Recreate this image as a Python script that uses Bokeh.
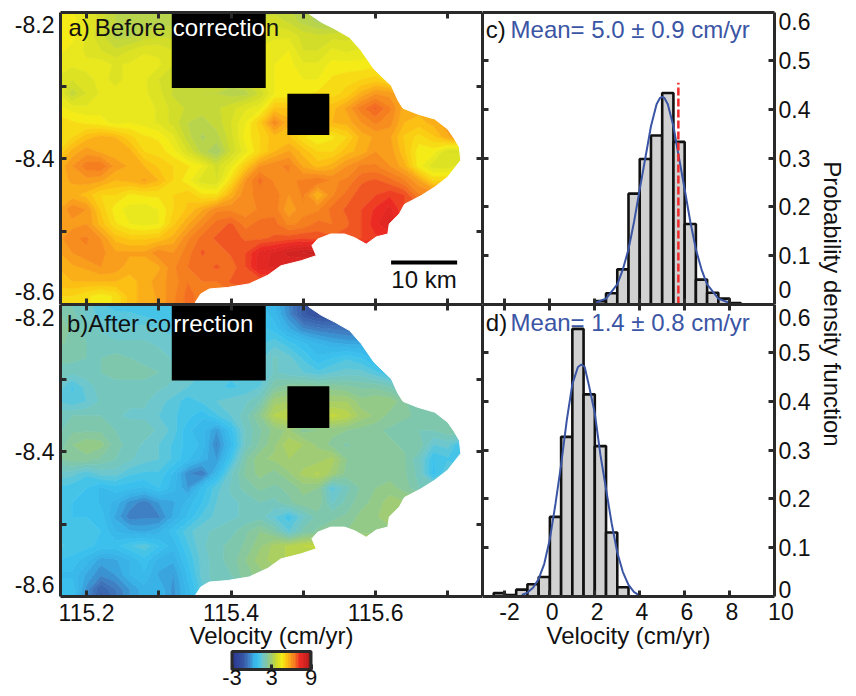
from bokeh.plotting import figure
from bokeh.layouts import row, column
from bokeh.models import Range1d, LinearAxis, FixedTicker, Label, ColorBar, LinearColorMapper
from bokeh.embed import file_html
from bokeh.resources import INLINE
import numpy as np

FONT = "Liberation Sans"
INK = "#111111"
SPINE = "#2a2a2a"
BLUE = "#3b55a5"

lon_grid = [115.16 + 0.02 * i for i in range(31)]
lat_grid = [-8.19 - 0.02 * i for i in range(22)]

velocity_before = [
 [4.7,4.5,4.2,3.8,3.5,3.3,3.2,3.3,3.3,3.3,3.3,3.3,3.3,3.4,3.5,3.6,3.5,3.3,3.1,3.1,3.2],
 [4.8,4.6,4.3,3.9,3.5,3.3,3.3,3.4,3.4,3.4,3.4,3.4,3.4,3.6,3.8,3.9,3.7,3.4,3.2,3.0,3.3,3.6,3.8],
 [4.8,4.6,4.2,3.8,3.4,3.4,3.6,3.7,3.7,3.6,3.6,3.6,3.7,3.9,4.1,4.2,4.2,3.9,3.8,3.9,3.9,4.0,4.2],
 [4.6,4.4,4.2,4.0,3.8,4.0,4.2,4.2,4.0,3.9,3.9,3.9,4.0,4.2,4.3,4.4,4.5,4.0,4.0,4.3,4.2,4.3,4.4,4.5],
 [4.4,4.3,4.3,4.4,4.2,4.3,4.4,4.3,4.0,3.8,3.8,3.8,3.9,4.1,4.3,4.5,4.6,4.3,4.3,4.6,4.6,4.6,4.7,4.7,4.7],
 [4.2,4.0,4.2,4.3,4.2,4.3,4.3,4.0,3.8,3.8,3.7,3.6,3.6,3.8,4.2,4.5,4.6,4.5,4.5,4.8,4.9,5.0,5.1,4.9,4.6],
 [4.3,3.6,4.0,4.3,4.3,4.4,4.3,4.1,3.7,3.6,3.5,3.5,3.4,3.4,3.8,4.5,4.6,4.7,4.8,4.9,5.1,5.6,6.0,5.9,5.5,5.1],
 [4.6,4.4,4.3,4.4,4.4,4.5,4.4,4.2,3.9,3.7,3.6,3.7,3.9,4.2,4.4,5.3,5.3,5.4,5.4,5.4,5.8,6.4,6.8,6.3,5.6,5.6,5.8,5.5],
 [4.9,4.8,4.7,4.6,4.4,4.5,4.4,4.2,3.9,3.5,3.4,3.6,4.0,4.5,5.2,6.2,5.6,5.4,5.4,5.5,5.6,6.0,6.3,6.1,5.5,5.4,5.6,5.9,5.8],
 [4.8,5.0,5.4,5.6,5.5,5.1,4.8,4.7,4.3,3.6,3.2,3.4,3.9,4.6,5.0,5.4,5.3,4.8,4.5,4.7,5.0,5.6,5.8,5.8,5.2,4.9,5.2,5.7,6.0,5.6],
 [5.0,5.6,5.9,5.7,5.6,5.6,5.0,4.9,4.6,4.0,3.4,3.0,3.8,4.4,5.0,5.5,5.8,5.4,5.0,5.0,5.4,5.6,6.0,5.9,5.3,4.6,4.6,4.0,4.0,4.6],
 [5.5,6.0,6.4,6.5,5.9,5.7,5.5,5.2,5.0,4.8,4.5,3.9,4.4,5.2,6.0,6.2,6.3,5.7,5.4,5.6,6.0,6.3,6.3,6.0,5.6,4.6,4.1,4.1,4.4,5.0],
 [5.6,5.8,5.9,5.8,5.5,5.6,5.8,5.5,5.0,4.6,4.1,4.0,4.9,6.0,6.6,6.2,6.2,6.3,6.5,6.2,6.3,6.7,6.8,6.6,6.3,5.8,5.0,5.0],
 [5.6,5.6,5.4,5.0,5.0,4.7,4.8,4.8,5.0,5.2,4.8,4.8,5.6,6.2,6.3,6.4,6.0,6.3,5.5,6.2,6.6,6.9,7.0,7.2,7.0,6.3],
 [5.7,6.2,6.0,5.2,4.6,4.4,4.3,4.5,5.0,5.3,5.7,6.2,6.2,6.1,6.3,6.4,5.8,6.2,6.2,6.6,6.8,7.0,7.3,7.6,7.0],
 [5.8,5.9,6.0,5.4,4.8,4.5,4.4,4.5,5.2,5.7,6.2,6.6,6.8,6.4,6.6,6.6,6.2,6.3,6.6,6.5,6.7,7.0,7.4,7.9,6.8],
 [5.9,6.2,6.3,6.0,5.4,5.2,5.2,5.3,5.6,6.2,6.6,6.8,6.9,6.7,6.7,6.8,6.9,7.0,6.9,6.8,6.9,7.0,7.2],
 [5.7,6.0,6.2,6.1,5.8,5.8,5.8,6.2,6.0,6.4,6.8,6.6,6.8,7.0,7.6,7.8,8.1,8.3,8.4,8.2],
 [5.5,5.7,5.8,6.0,5.9,5.6,5.6,5.7,6.2,6.5,6.6,6.8,6.6,7.0,7.7,7.8,7.7,7.4],
 [5.4,5.5,5.5,5.5,5.5,5.4,5.6,5.9,6.1,6.5,6.5,6.5,6.8,7.0,6.8],
 [5.0,5.0,4.8,4.6,4.8,5.4,5.6,5.8,6.2,6.6,6.4],
 [5.0,5.0,4.8,4.6,4.8,5.4,5.6,5.8,6.2,6.6,6.4],
]

velocity_after = [
 [2.2,1.9,1.6,1.2,1.1,1.0,1.0,1.0,1.0,1.0,1.0,1.0,1.0,0.9,0.7,0.5,-0.3,-1.2,-1.5,-1.4,-1.0,-0.5],
 [2.3,2.1,1.7,1.4,1.3,1.3,1.2,1.1,1.1,1.1,1.1,1.1,1.1,1.0,1.0,0.6,-0.2,-1.2,-1.6,-1.6,-1.2,-0.8,-0.5],
 [2.4,2.2,1.9,1.7,1.6,1.6,1.6,1.5,1.4,1.3,1.3,1.3,1.2,1.2,1.1,0.9,0.3,-0.2,-0.4,-0.5,-0.6,-0.6,-0.2,0.0],
 [2.3,2.2,2.0,1.9,1.8,1.8,1.8,1.7,1.6,1.5,1.4,1.4,1.3,1.3,1.2,1.4,1.1,0.8,0.5,0.3,0.2,0.2,0.1,0.0],
 [2.1,2.1,2.0,2.0,2.1,2.0,1.9,1.9,1.7,1.6,1.5,1.5,1.4,1.4,1.4,1.8,1.6,1.2,0.8,1.0,1.2,1.0,0.6,0.5,0.5],
 [1.9,1.8,1.9,2.0,2.1,2.1,2.1,2.0,1.8,1.6,1.5,1.4,1.3,1.3,1.3,1.8,1.6,1.5,1.3,1.5,1.6,1.6,1.3,1.0,0.8],
 [1.7,1.2,1.6,1.9,1.9,1.9,1.9,1.8,1.7,1.5,1.4,1.3,1.2,1.3,1.5,2.2,2.4,2.4,2.4,2.4,2.3,2.2,2.2,2.0,1.5,1.4],
 [1.5,1.3,1.5,1.8,1.9,1.8,1.8,1.6,1.4,1.1,1.3,1.5,1.6,1.7,2.0,2.9,3.0,3.0,3.0,3.0,3.0,2.6,2.7,2.7,2.3,2.0,2.0],
 [1.9,2.0,2.0,2.0,1.8,1.7,1.7,1.5,1.3,1.1,0.8,1.2,1.5,1.9,2.5,3.3,3.5,3.4,3.2,3.6,3.4,2.9,2.7,2.4,2.3,2.2,2.2,2.2,2.1],
 [1.9,2.2,2.2,2.2,2.0,1.9,1.9,1.7,1.4,0.8,0.6,0.0,0.9,1.8,2.2,2.6,2.8,2.4,2.5,2.6,2.5,2.4,2.3,2.2,2.1,2.0,2.0,2.2,2.4,2.3],
 [2.0,2.5,2.7,2.6,2.1,1.9,1.7,1.5,1.2,0.9,0.7,-0.3,0.7,1.8,2.3,2.7,3.2,3.0,2.7,2.4,2.2,2.4,2.4,2.3,2.2,2.2,1.5,1.6,0.9,2.0,2.2],
 [2.2,2.4,2.4,2.2,2.0,1.8,1.6,1.5,1.2,0.8,0.4,0.0,1.1,2.2,2.7,2.8,3.0,2.8,2.9,3.1,2.5,2.3,2.4,2.3,2.3,1.8,1.0,1.2,1.0,1.8,2.0],
 [1.7,1.6,1.3,1.6,1.6,1.3,1.2,1.2,0.7,-0.2,-0.5,0.6,1.7,2.3,2.6,2.4,2.7,3.1,3.3,2.9,2.4,2.5,2.4,2.4,2.3,1.9,0.9,1.5],
 [1.2,1.1,1.0,0.7,0.9,0.8,0.7,1.0,0.6,0.0,0.8,1.4,1.8,2.1,2.3,2.2,2.3,2.6,2.5,1.4,1.9,2.3,2.5,2.6,2.4,2.0,2.0],
 [1.1,1.0,1.0,0.7,0.4,-0.1,-0.4,0.0,0.2,0.6,1.0,1.5,1.7,1.8,2.0,1.9,2.2,2.4,2.5,1.7,2.1,2.4,2.6,2.9,2.8],
 [1.1,1.0,1.0,0.9,0.2,-0.4,-0.3,-0.3,0.3,0.8,1.3,1.6,1.7,1.8,1.9,1.5,1.1,1.7,2.1,2.2,2.3,2.6,2.7,3.0,2.6],
 [1.2,1.1,1.2,1.0,0.5,0.3,0.2,0.4,0.9,1.4,1.7,1.8,1.9,2.2,2.5,2.2,1.5,2.1,2.3,2.4,2.5,2.6,2.6],
 [1.3,1.2,1.1,0.9,0.9,1.2,1.4,1.0,0.6,1.2,1.7,1.9,2.1,2.3,2.7,3.1,3.3,3.5,3.6,3.5],
 [1.0,0.9,0.6,0.1,0.2,0.5,0.9,0.4,0.3,1.0,1.6,1.9,2.1,2.5,2.9,3.1,3.3,3.3,3.2],
 [0.7,0.7,0.2,-0.2,0.0,0.5,0.7,0.2,0.0,0.8,1.6,1.9,2.0,2.4,2.6,2.8],
 [0.9,0.9,-0.1,-1.0,-0.5,0.0,0.4,0.5,-0.1,0.6,1.4,1.9,2.0],
 [0.9,0.9,-0.3,-1.2,-0.7,0.0,0.4,0.5,-0.1,0.6,1.4,1.9,2.0],
]

# sea area drawn over each map, outlined along the coast
coast_lon = [115.508,115.525,115.543,115.564,115.580,115.598,115.622,115.631,115.638,115.658,115.682,115.700,115.709,115.716,115.718,115.700,115.682,115.663,115.640,115.633,115.619,115.617,115.601,115.587,115.571,115.557,115.538,115.520,115.512,115.518,115.497,115.469,115.451,115.425,115.395,115.370,115.358,115.351,115.347,115.347,115.76,115.76,115.50]
coast_lat = [-8.1995,-8.211,-8.220,-8.232,-8.250,-8.276,-8.299,-8.319,-8.330,-8.338,-8.345,-8.359,-8.372,-8.384,-8.402,-8.425,-8.439,-8.451,-8.463,-8.476,-8.490,-8.504,-8.508,-8.518,-8.509,-8.504,-8.504,-8.511,-8.520,-8.534,-8.541,-8.548,-8.561,-8.573,-8.578,-8.580,-8.587,-8.598,-8.61,-8.62,-8.62,-8.18,-8.18]

# masked blocks: lon left, lon right, lat bottom, lat top
blocks_a = [(115.318,115.448,-8.302,-8.18),(115.478,115.536,-8.367,-8.31)]
blocks_b = [(115.318,115.448,-8.301,-8.18),(115.478,115.536,-8.367,-8.309)]

hist_c_edges = [2.0,2.5,3.0,3.5,4.0,4.5,5.0,5.5,6.0,6.5,7.0,7.5,8.0,8.5]
hist_c_values = [0.007,0.023,0.072,0.227,0.298,0.346,0.433,0.333,0.165,0.051,0.024,0.012,0.003]
curve_c_x = [2.0,2.5,3.0,3.25,3.5,3.75,4.0,4.25,4.5,4.75,4.9,5.0,5.1,5.25,5.5,5.75,6.0,6.25,6.5,6.75,7.0,7.5,8.0]
curve_c_y = [0.003,0.012,0.041,0.072,0.113,0.170,0.236,0.300,0.365,0.410,0.423,0.425,0.423,0.410,0.365,0.300,0.236,0.170,0.113,0.072,0.041,0.012,0.003]
red_x = [5.72,5.72]
red_y = [0.0,0.454]

hist_d_edges = [-2.5,-2.0,-1.5,-1.0,-0.5,0.0,0.5,1.0,1.5,2.0,2.5,3.0,3.5]
hist_d_values = [0.007,0.003,0.014,0.025,0.040,0.163,0.327,0.548,0.414,0.308,0.131,0.019]
curve_d_x = [-1.25,-1.0,-0.75,-0.5,-0.25,0.0,0.25,0.5,0.75,1.0,1.25,1.4,1.55,1.75,2.0,2.25,2.5,2.75,3.0,3.25,3.5,3.75,4.0]
curve_d_y = [0.003,0.008,0.018,0.036,0.067,0.118,0.190,0.270,0.360,0.435,0.470,0.475,0.470,0.430,0.375,0.290,0.220,0.150,0.090,0.050,0.024,0.009,0.002]

map_lon_ticks = [115.2,115.3,115.4,115.5,115.6,115.7]
map_lat_ticks = [-8.3,-8.4,-8.5]
map_lon_labels = {115.2:"115.2",115.4:"115.4",115.6:"115.6"}
map_lat_labels = {-8.214:"-8.2",-8.4:"-8.4",-8.583:"-8.6"}
hist_x_ticks = [-2,0,2,4,6,8]
hist_x_labels = {-1.8:"-2",0.1:"0",2.1:"2",4.1:"4",6.1:"6",8.1:"8",10.0:"\u00a0\u00a010"}
hist_y_ticks = [0.1,0.2,0.3,0.4,0.5]
hist_y_labels_c = {0.03:"0",0.1:"0.1",0.2:"0.2",0.3:"0.3",0.4:"0.4",0.5:"0.5",0.58:"0.6"}
hist_y_labels_d = {0.015:"0",0.1:"0.1",0.2:"0.2",0.3:"0.3",0.4:"0.4",0.5:"0.5",0.572:"0.6"}
bar_ticks = {-3:"-3",3:"3",9:"9"}

# colour scale
scale_values = [-3,-1.5,-0.5,0.3,1.0,1.6,2.3,3.0,3.8,4.6,5.3,5.9,6.6,7.35,8.4,9]
scale_colors = ["#2a3390","#34509f","#3f77bd","#37b0e6","#3cc3ef","#6cc7cf","#84c7a2","#a5cd6b","#cedb2b","#f4ec17","#fcc412","#f99b1c","#f37021","#ec2a24","#c8201f","#7a1c1c"]

def colour_at(v):
    rgb = [[int(c[i:i+2],16) for c in scale_colors] for i in (1,3,5)]
    return "#%02x%02x%02x" % tuple(int(round(np.interp(v, scale_values, ch))) for ch in rgb)

levels = [-3 + 0.25*i for i in range(49)]
fill_pal = [colour_at(l+0.125) for l in levels[:-1]]
line_pal = [colour_at(l) for l in levels]

def tick_axis(p, side, ticks):
    ax = LinearAxis(ticker=FixedTicker(ticks=ticks), major_label_overrides={t:"" for t in ticks},
                    major_tick_in=6, major_tick_out=0, minor_tick_line_color=None,
                    axis_line_color=SPINE, axis_line_width=3,
                    major_tick_line_color=SPINE, major_tick_line_width=3,
                    major_label_standoff=0, major_label_text_font_size="1px")
    p.add_layout(ax, side)

def label_axis(p, side, labels, standoff, title=None, title_standoff=0):
    ax = LinearAxis(ticker=FixedTicker(ticks=list(labels)), major_label_overrides=labels,
                    major_tick_in=0, major_tick_out=0, minor_tick_line_color=None,
                    axis_line_color=None, major_tick_line_color=None,
                    major_label_standoff=standoff, major_label_text_font=FONT,
                    major_label_text_font_size="23px", major_label_text_color=INK)
    if title:
        ax.axis_label = title
        ax.axis_label_text_font = FONT
        ax.axis_label_text_font_size = "24px"
        ax.axis_label_text_font_style = "normal"
        ax.axis_label_text_color = INK
        ax.axis_label_standoff = title_standoff
    p.add_layout(ax, side)

def base(w, h, xr, yr, **kw):
    p = figure(width=w, height=h, x_range=Range1d(*xr), y_range=Range1d(*yr),
               toolbar_location=None, output_backend="svg", x_axis_location=None, y_axis_location=None,
               outline_line_color=None, min_border_left=kw.get("l",0), min_border_right=kw.get("r",0),
               min_border_top=kw.get("t",0), min_border_bottom=kw.get("b",0))
    p.grid.visible = False
    return p

def text(p, x, y, s, color=INK, size="24px", align="left", angle=0):
    p.add_layout(Label(x=x, y=y, text=s, text_font=FONT, text_font_size=size, text_color=color,
                       text_align=align, text_baseline="middle", angle=angle))

def draw_map(p, field, blocks):
    z = np.array([r + [r[-1]]*(len(lon_grid)-len(r)) for r in field], dtype=float)[::-1]
    p.contour(lon_grid, lat_grid[::-1], z, levels, fill_color=fill_pal, line_color=line_pal, line_width=1)
    p.patch(coast_lon, coast_lat, fill_color="white", line_color="white", line_width=1)
    p.quad(left=[b[0] for b in blocks], right=[b[1] for b in blocks], bottom=[b[2] for b in blocks],
           top=[b[3] for b in blocks], fill_color="black", line_color=None)
    for side in ("left","right"):
        tick_axis(p, side, map_lat_ticks)
    for side in ("above","below"):
        tick_axis(p, side, map_lon_ticks)

def draw_hist(p, edges, vals, cx, cy):
    p.quad(left=edges[:-1], right=edges[1:], top=vals, bottom=0, fill_color="#d1d1d1", line_color="#111111", line_width=2.6)
    p.line(cx, cy, line_color=BLUE, line_width=2)

XR = (115.164, 115.748)
a = base(482, 304, XR, (-8.6015, -8.1976), l=60, t=12)
draw_map(a, velocity_before, blocks_a)
label_axis(a, "left", map_lat_labels, 6)
text(a, 115.175, -8.2185, "a)")
text(a, 115.2115, -8.2185, "Before")
text(a, 115.3195, -8.2185, "correctio", color="white")
text(a, 115.448, -8.2185, "n")
a.line([115.6215,115.7129],[-8.5434,-8.5434], line_color="black", line_width=4)
text(a, 115.667, -8.567, "10 km", align="center")

b = base(482, 392, XR, (-8.6, -8.196), l=60, b=100)
draw_map(b, velocity_after, blocks_b)
label_axis(b, "left", map_lat_labels, 6)
label_axis(b, "below", map_lon_labels, 7, "Velocity (cm/yr)", -2)
text(b, 115.173, -8.222, "b)After co")
text(b, 115.32, -8.222, "rrection", color="white")
mapper = LinearColorMapper(palette=fill_pal, low=-3, high=9)
cb = ColorBar(color_mapper=mapper, ticker=FixedTicker(ticks=[-3,3,9]), major_label_overrides=bar_ticks,
              orientation="horizontal",
              width=79, height=18, location="center", bar_line_color=SPINE, bar_line_width=3,
              major_tick_line_color=SPINE, major_tick_line_width=3, major_tick_in=5, major_tick_out=0,
              minor_tick_line_color=None, major_label_text_font=FONT, major_label_text_font_size="22px",
              major_label_text_color=INK, label_standoff=0, padding=0, margin=3,
              background_fill_color=None, border_line_color=None)
b.add_layout(cb, "below")

HXR = (-3, 10)
c = base(334, 304, HXR, (0, 0.598), r=42, t=12)
draw_hist(c, hist_c_edges, hist_c_values, curve_c_x, curve_c_y)
c.line(red_x, red_y, line_color="#ee2a2a", line_width=2.5, line_dash="8 3")
for side, t in (("left",hist_y_ticks),("right",hist_y_ticks),("below",hist_x_ticks)):
    tick_axis(c, side, t)
tick_axis(c, "above", [])
label_axis(c, "right", hist_y_labels_c, 4)
text(c, -2.85, 0.563, "c)")
text(c, -1.75, 0.563, "Mean= 5.0 \u00b1 0.9 cm/yr", color=BLUE)

d = base(334, 392, HXR, (0, 0.598), r=42, b=100)
draw_hist(d, hist_d_edges, hist_d_values, curve_d_x, curve_d_y)
for side, t in (("left",hist_y_ticks),("right",hist_y_ticks),("above",hist_x_ticks),("below",hist_x_ticks)):
    tick_axis(d, side, t)
label_axis(d, "right", hist_y_labels_d, 4)
label_axis(d, "below", hist_x_labels, 2, "Velocity (cm/yr)", -6)
text(d, -2.85, 0.562, "d)")
text(d, -1.75, 0.562, "Mean= 1.4 \u00b1 0.8 cm/yr", color=BLUE)

e = base(39, 696, (0,1), (0,1))
text(e, 0.41, 0.564, "Probability density function", align="center", angle=-1.5708)

page = row(column(a, b, spacing=0), column(c, d, spacing=0), e, spacing=0)
open("out.html", "w").write(file_html(page, INLINE))
